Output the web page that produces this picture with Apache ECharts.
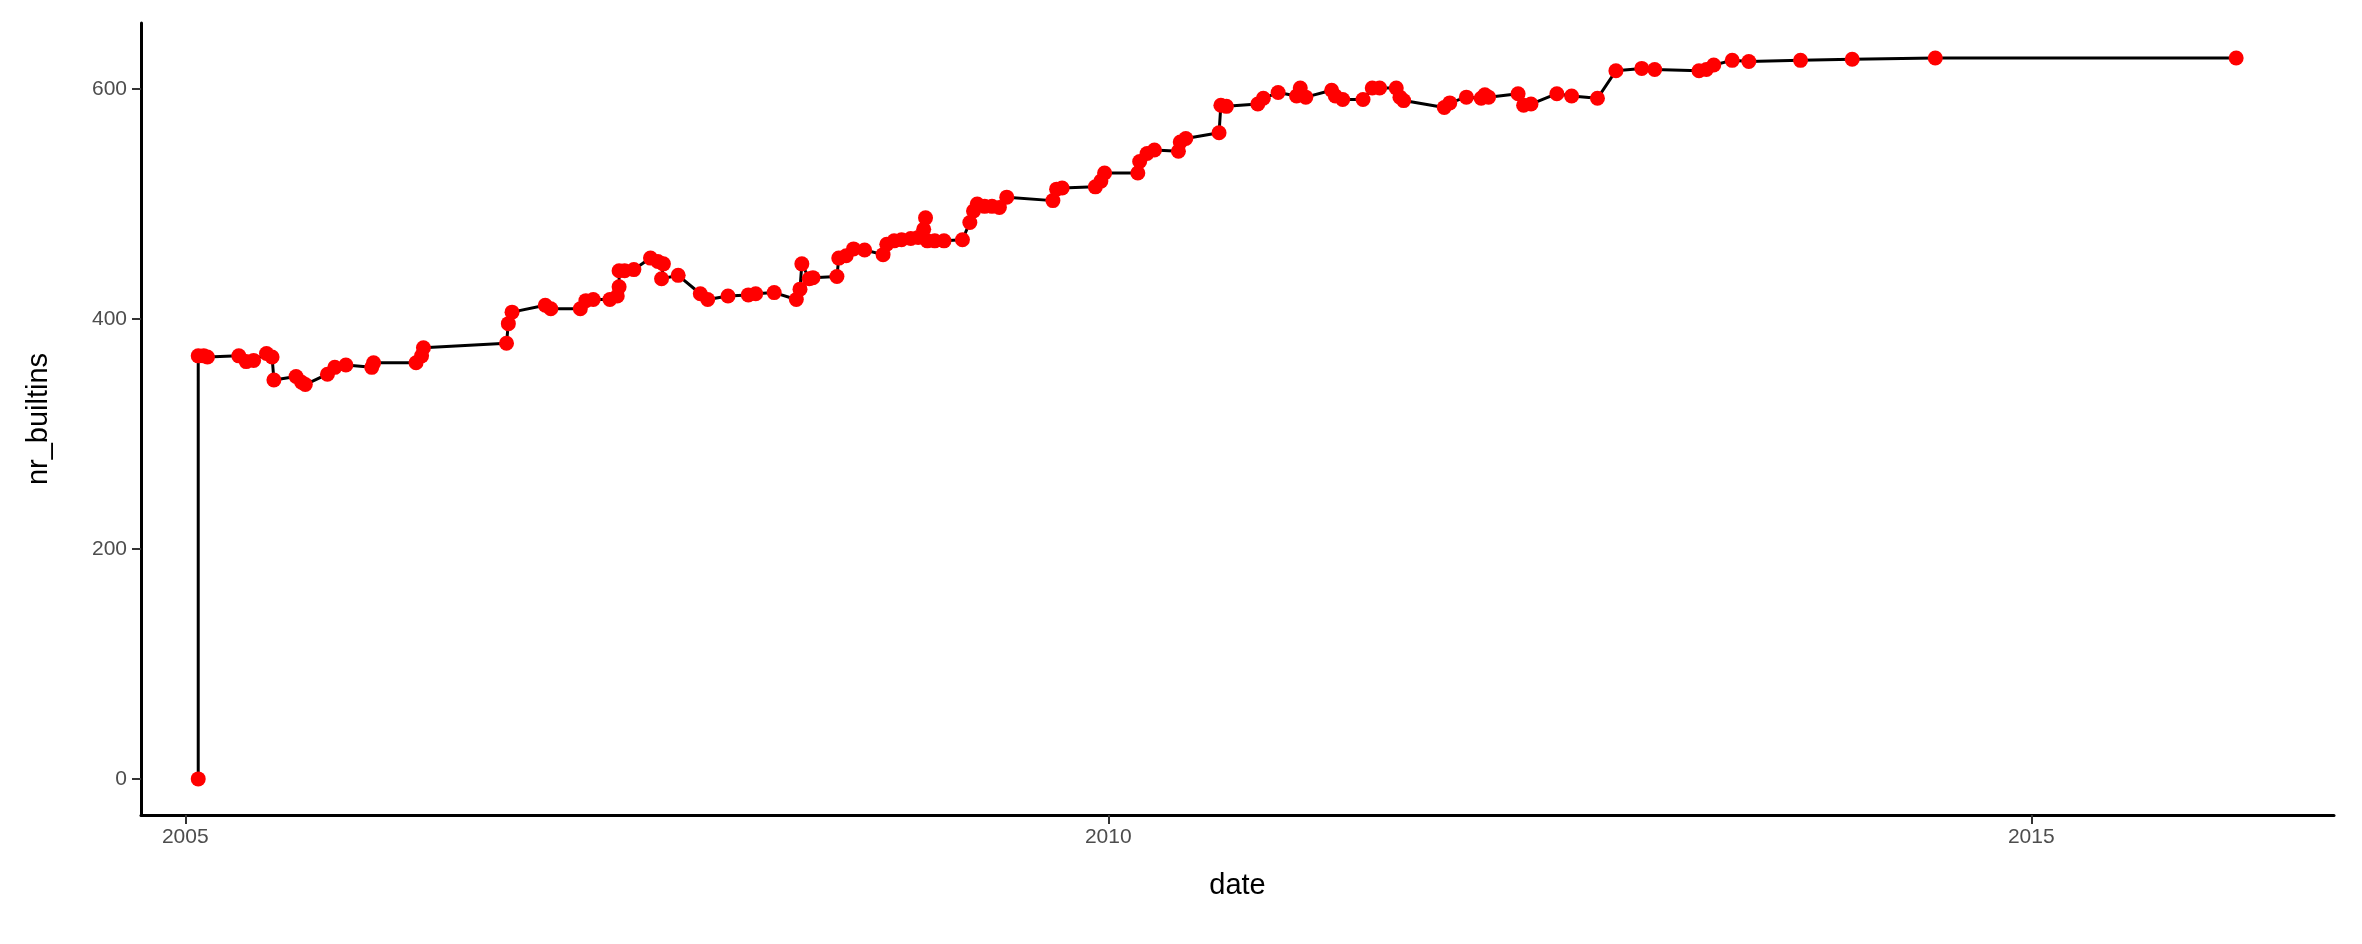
<!DOCTYPE html>
<html>
<head>
<meta charset="utf-8">
<script src="https://cdn.jsdelivr.net/npm/echarts@6/dist/echarts.min.js"></script>
<style>html,body{margin:0;background:#fff}#chart{width:2362px;height:944px}</style>
</head>
<body>
<div id="chart"></div>
<script>
// decimal year of each commit, and builtin count
var dates = [2005.07,2005.07,2005.10,2005.12,2005.29,2005.33,2005.37,2005.44,2005.47,2005.48,
  2005.60,2005.63,2005.65,2005.77,2005.81,2005.87,2006.01,2006.02,2006.25,2006.28,2006.29,
  2006.74,2006.75,2006.77,2006.95,2006.98,2007.14,2007.17,2007.21,2007.30,2007.34,2007.35,2007.35,
  2007.38,2007.43,2007.52,2007.56,2007.59,2007.58,2007.67,2007.79,2007.83,2007.94,2008.05,2008.09,
  2008.19,2008.31,2008.33,2008.34,2008.38,2008.40,2008.53,2008.54,2008.58,2008.62,2008.68,
  2008.78,2008.80,2008.84,2008.88,2008.93,2008.97,2009.00,2009.01,2009.02,2009.06,2009.11,
  2009.21,2009.25,2009.27,2009.29,2009.33,2009.37,2009.41,2009.45,2009.70,2009.72,2009.75,
  2009.93,2009.96,2009.98,2010.16,2010.17,2010.21,2010.25,2010.38,2010.39,2010.42,
  2010.60,2010.61,2010.64,2010.81,2010.84,2010.92,2011.02,2011.04,2011.07,2011.21,2011.23,2011.27,
  2011.38,2011.43,2011.47,2011.56,2011.58,2011.60,2011.82,2011.85,2011.94,2012.02,2012.04,2012.06,
  2012.22,2012.25,2012.29,2012.43,2012.51,2012.65,2012.75,2012.89,2012.96,
  2013.20,2013.24,2013.28,2013.38,2013.47,2013.75,2014.03,2014.48,2016.11];
var builtins = [0,368,368,367,368,363,364,370,367,347,
  350,345,343,352,358,360,358,362,362,368,375,
  379,396,406,412,409,409,416,417,417,420,428,442,
  442,443,453,450,448,435,438,422,417,420,421,422,
  423,417,426,448,435,436,437,453,455,461,460,
  456,465,468,469,470,471,478,488,468,468,468,
  469,484,494,500,498,498,497,506,503,513,514,
  515,520,527,527,537,544,547,546,554,557,
  562,586,585,587,592,597,594,601,593,599,594,591,
  591,601,601,601,593,590,584,588,593,592,595,593,
  596,586,587,596,594,592,616,618,617,
  616,617,621,625,624,625,626,627,627];
var xTicks = [2005, 2010, 2015];
var yTicks = [0, 200, 400, 600];

var chart = echarts.init(document.getElementById('chart'));
chart.setOption({
  animation: false,
  grid: { left: 141, right: 28, top: 23, bottom: 129 },
  xAxis: {
    type: 'value', min: 2004.76, max: 2016.64,
    name: 'date', nameLocation: 'middle', nameGap: 56,
    nameTextStyle: { color: '#000', fontSize: 29, fontFamily: 'Liberation Sans' },
    axisLine: { onZero: false, lineStyle: { color: '#000', width: 3 } },
    axisTick: { customValues: xTicks, length: 9, lineStyle: { color: '#333', width: 2 } },
    axisLabel: { customValues: xTicks, formatter: function (v) { return String(v); },
      color: '#4d4d4d', fontSize: 21, margin: 12, fontFamily: 'Liberation Sans' },
    splitLine: { show: false }
  },
  yAxis: {
    type: 'value', min: -31.4, max: 657.5,
    name: 'nr_builtins', nameLocation: 'middle', nameGap: 88,
    nameTextStyle: { color: '#000', fontSize: 29, fontFamily: 'Liberation Sans' },
    axisLine: { show: true, onZero: false, lineStyle: { color: '#000', width: 3 } },
    axisTick: { show: true, customValues: yTicks, length: 9, lineStyle: { color: '#333', width: 2 } },
    axisLabel: { customValues: yTicks, color: '#4d4d4d', fontSize: 21, margin: 14, fontFamily: 'Liberation Sans' },
    splitLine: { show: false }
  },
  series: [{
    type: 'line',
    data: dates.map(function (d, i) { return [d, builtins[i]]; }),
    lineStyle: { color: '#000', width: 3 },
    symbol: 'circle', symbolSize: 15,
    itemStyle: { color: '#ff0000' },
    z: 2
  }]
});
</script>
</body>
</html>
